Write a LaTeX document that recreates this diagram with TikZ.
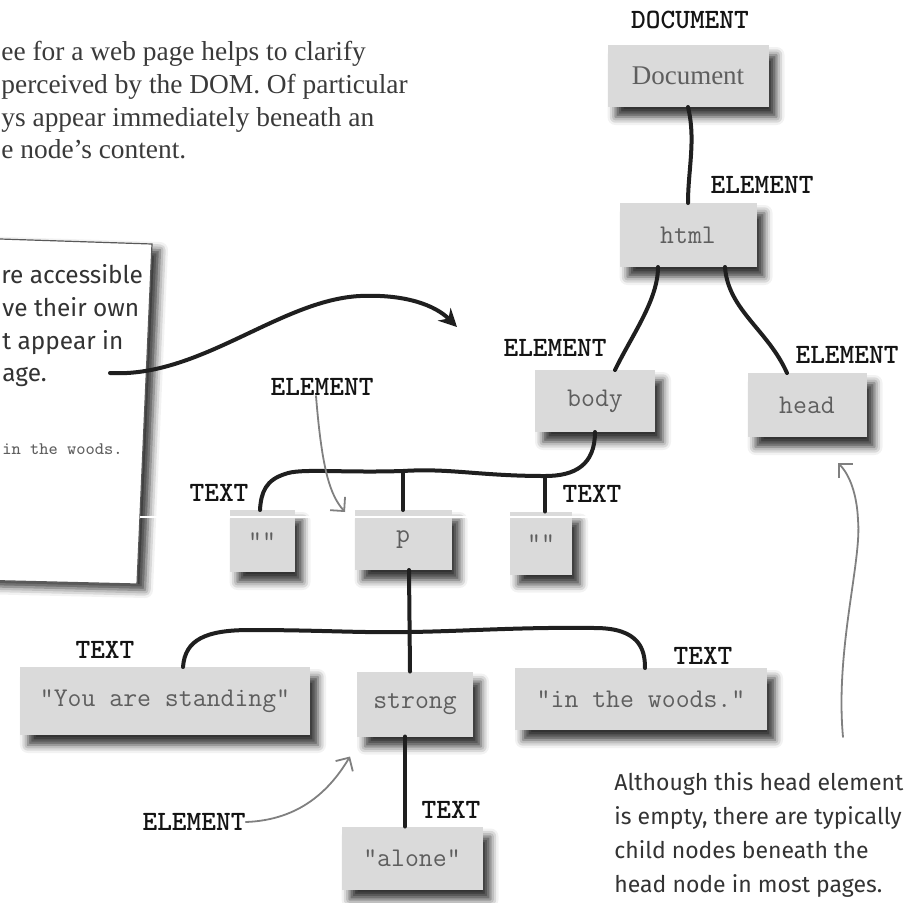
\documentclass[tikz,border=0pt]{standalone}
\usepackage{fontspec}
\setmainfont{Liberation Serif}
\newfontfamily\handfont{Fira Sans}
\usetikzlibrary{arrows.meta,shadows.blur,calc}
\definecolor{boxfill}{HTML}{DADADA}
\definecolor{boxtext}{HTML}{5E5E5E}
\definecolor{lblcol}{HTML}{141414}
\definecolor{ptrcol}{HTML}{808080}
\definecolor{paracol}{HTML}{3A3A3A}
\definecolor{handcol}{HTML}{333333}
\tikzset{
  box/.style={fill=boxfill, draw=none, inner sep=0pt, outer sep=0pt, text=boxtext,
    font=\ttfamily\fontsize{13.5}{15}\selectfont,
    blur shadow={shadow xshift=4pt, shadow yshift=-5pt, shadow blur radius=4pt, shadow opacity=80}},
  lbl/.style={font=\ttfamily\bfseries\fontsize{14}{15}\selectfont, text=lblcol, inner sep=0pt},
  conn/.style={draw=black!88, line width=2pt, line cap=round},
  ptr/.style={draw=ptrcol, line width=0.9pt, line cap=round, -{Straight Barb[length=5pt,width=10pt]}},
  hand/.style={font=\handfont\fontsize{12.2}{17}\selectfont, text=handcol, inner sep=0pt},
  para/.style={font=\fontsize{13.7}{16.5}\selectfont, text=paracol, inner sep=0pt},
}
\begin{document}
\begin{tikzpicture}[x=0.5pt,y=-0.5pt]
\useasboundingbox (0,0) rectangle (917,902);
\clip (0,0) rectangle (917,902);

% top paragraph
\node[para, anchor=base west] (par1) at (1,60) {ee for a web page helps to clarify};
\node[para, anchor=base west] (par2) at (1,93) {perceived by the DOM. Of particular};
\node[para, anchor=base west] (par3) at (1,126) {ys appear immediately beneath an};
\node[para, anchor=base west] (par4) at (1,158) {e node’s content.};

% left card
\path[fill=white, draw=black!65, line width=0.6pt,
  blur shadow={shadow xshift=4pt, shadow yshift=-3pt, shadow blur radius=4pt, shadow opacity=80}]
  (-30,238) -- (152,244) -- (137,584) -- (-30,580) -- cycle;
\node[hand, anchor=base west] (c1) at (1,283) {re accessible};
\node[hand, anchor=base west] (c2) at (2,316) {ve their own};
\node[hand, anchor=base west] (c3) at (2,349) {t appear in};
\node[hand, anchor=base west] (c4) at (2,381) {age.};
\node[inner sep=0pt, anchor=base west, text=boxtext, font=\ttfamily\fontsize{8.8}{10}\selectfont] (c5) at (2,454) {in the woods.};
\coordinate (cardstart) at (110,373);
\coordinate (cardend) at (457,327);
\draw[conn, -{Stealth[length=9pt,width=9pt,inset=3pt]}] (cardstart) .. controls (200,378) and (280,300) .. (360,296) .. controls (405,294) and (435,305) .. (cardend);

% boxes
\node[box, minimum width=80.5pt, minimum height=31pt, font=\fontsize{13.5}{15}\selectfont] (doc) at (688,76) {Document};
\node[box, minimum width=68.5pt, minimum height=32pt] (html) at (688,235) {html};
\node[box, minimum width=60pt, minimum height=31pt] (body) at (595,401) {body};
\node[box, minimum width=59.5pt, minimum height=32pt] (head) at (807,405) {head};
\node[box, minimum width=32.5pt, minimum height=31pt] (t1) at (262,541) {""};
\node[box, minimum width=48.5pt, minimum height=30pt] (p) at (403,540) {p};
\node[box, minimum width=31pt, minimum height=31.5pt] (t2) at (541,543) {""};
\node[box, minimum width=145pt, minimum height=34pt] (ys) at (165,701) {"You are standing"};
\node[box, minimum width=58pt, minimum height=32.5pt] (strong) at (415,704) {strong};
\node[box, minimum width=126pt, minimum height=31pt] (woods) at (641,699) {"in the woods."};
\node[box, minimum width=70.5pt, minimum height=31.5pt] (alone) at (412,858) {"alone"};

% labels
\node[lbl] (lDoc) at (690,20) {DOCUMENT};
\node[lbl] (lHtml) at (762,185) {ELEMENT};
\node[lbl] (lBody) at (555,348) {ELEMENT};
\node[lbl] (lHead) at (847,355) {ELEMENT};
\node[lbl] (lT1) at (219,493) {TEXT};
\node[lbl] (lT2) at (592,494) {TEXT};
\node[lbl] (lP) at (322,387) {ELEMENT};
\node[lbl] (lYs) at (105,650) {TEXT};
\node[lbl] (lWoods) at (703,656) {TEXT};
\node[lbl] (lAlone) at (451,810) {TEXT};
\node[lbl] (lStrong) at (194,822) {ELEMENT};

% connectors
\draw[conn] (doc.south) .. controls (696,140) and (688,170) .. (html.north);
\draw[conn] ([xshift=-15pt]html.south) .. controls (658,300) and (632,335) .. ([xshift=10pt]body.north);
\draw[conn] ([xshift=18.5pt]html.south) .. controls (728,310) and (768,330) .. ([xshift=-10pt]head.north);

\coordinate (bj) at (545,476);
\coordinate (pj) at (403,471);
\draw[conn] (body.south) .. controls (595,465) and (575,476) .. (bj)
  .. controls (480,476) and (450,468) .. (pj)
  .. controls (340,473) and (300,468) .. (285,474)
  .. controls (266,480) and (261,492) .. ([xshift=-1pt]t1.north);
\draw[conn] (pj) -- (p.north);
\draw[conn] (bj) -- ([xshift=2pt]t2.north);

\coordinate (sj) at (410,632);
\draw[conn] ([xshift=3pt]p.south) -- ([xshift=-2.5pt]strong.north);
\draw[conn] ([xshift=9pt]ys.north) .. controls (185,640) and (205,630) .. (250,630)
  .. controls (320,630) and (360,633) .. (sj)
  .. controls (470,631) and (520,627) .. (595,628)
  .. controls (640,628) and (645,650) .. ([xshift=2pt]woods.north);
\draw[conn] ([xshift=-5pt]strong.south) -- ([xshift=-3.5pt]alone.north);

% pointers
\draw[ptr] ([xshift=-3pt]lP.south) .. controls (322,470) and (330,495) .. ([xshift=-29pt,yshift=-1pt]p.north);
\draw[ptr] (lStrong.east) .. controls (300,820) and (330,790) .. ([xshift=-3.5pt,yshift=-10pt]strong.south west);
\coordinate (notestart) at (843,737);
\coordinate (headptr) at (838,463);
\draw[ptr] (notestart) .. controls (835,650) and (862,560) .. (858,520) .. controls (857,495) and (850,475) .. (headptr);

% note
\node[hand, anchor=north west, align=left, font=\handfont\fontsize{11.5}{17}\selectfont] (note) at (614,772) {Although this head element\\is empty, there are typically\\child nodes beneath the\\head node in most pages.};

% white scan line
\draw[white, line width=0.8pt] (140,517) -- (600,517);
\end{tikzpicture}
\end{document}
